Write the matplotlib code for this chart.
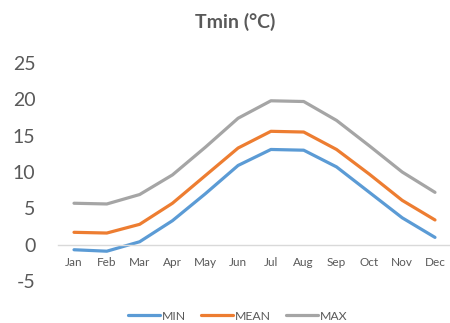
import matplotlib
matplotlib.use("Agg")
import matplotlib.pyplot as plt

months = ["Jan", "Feb", "Mar", "Apr", "May", "Jun", "Jul", "Aug", "Sep", "Oct", "Nov", "Dec"]
t_min = [-0.7, -0.9, 0.4, 3.3, 7.0, 10.9, 13.1, 13.0, 10.7, 7.2, 3.7, 1.0]
t_mean = [1.7, 1.6, 2.8, 5.7, 9.5, 13.3, 15.6, 15.5, 13.1, 9.7, 6.1, 3.4]
t_max = [5.7, 5.6, 6.9, 9.6, 13.4, 17.4, 19.8, 19.7, 17.1, 13.6, 10.0, 7.2]
y_ticks = [-5, 0, 5, 10, 15, 20, 25]

plt.rcParams["font.family"] = ["Lato", "DejaVu Sans"]
text_color = "#595959"

fig = plt.figure(figsize=(4.5, 3.23), dpi=100)
ax = fig.add_axes([57.6 / 450, 42 / 323, 393.8 / 450, 218 / 323])

x = list(range(len(months)))
ax.plot(x, t_min, color="#5B9BD5", lw=2.3, label="MIN", solid_capstyle="round")
ax.plot(x, t_mean, color="#ED7D31", lw=2.3, label="MEAN", solid_capstyle="round")
ax.plot(x, t_max, color="#A5A5A5", lw=2.3, label="MAX", solid_capstyle="round")

ax.set_xlim(-0.5, len(months) - 0.5)
ax.set_ylim(-5, 25)
ax.set_yticks(y_ticks)
ax.set_yticklabels([str(v) for v in y_ticks])
ax.set_xticks(x)
ax.set_xticklabels(months)

for side in ["top", "right", "left"]:
    ax.spines[side].set_visible(False)
ax.spines["bottom"].set_position(("data", 0))
ax.spines["bottom"].set_color("#D9D9D9")
ax.spines["bottom"].set_linewidth(1.0)

ax.tick_params(axis="x", length=0, pad=9, labelsize=8.5, labelcolor=text_color)
ax.tick_params(axis="y", length=0, pad=16, labelsize=14, labelcolor=text_color)

fig.text(235 / 450, 1 - 22 / 323, "Tmin (°C)", ha="center", va="center",
         fontsize=14, fontweight="bold", color=text_color)

leg = fig.legend(loc="center", bbox_to_anchor=(238 / 450, 1 - 316 / 323), ncol=3,
                 frameon=False, fontsize=8.8, handlelength=2.6, handletextpad=0.2,
                 columnspacing=1.2)
for t in leg.get_texts():
    t.set_color(text_color)

fig.savefig("out.png", dpi=100)
